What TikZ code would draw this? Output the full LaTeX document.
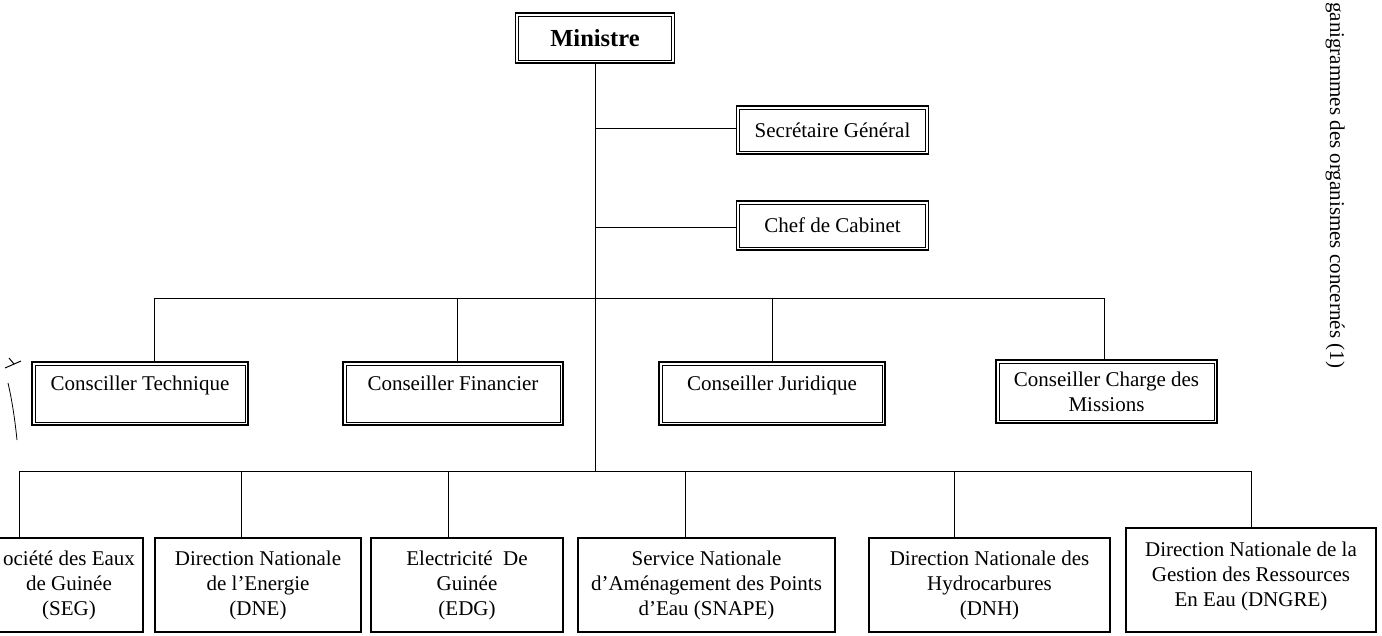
\documentclass[tikz,border=0pt]{standalone}
\usepackage{fontspec}
\setmainfont{Liberation Serif}
\usetikzlibrary{calc}
\begin{document}
\begin{tikzpicture}[x=1pt,y=1pt,
  txt/.style={font=\fontsize{21}{25}\selectfont,align=center,inner sep=0pt},
  dbox/.style={txt,draw,line width=1.6pt,minimum width=#1,minimum height=48pt},
  cbox/.style={txt,draw,line width=1.6pt,minimum width=#1,minimum height=63pt},
  bbox/.style={txt,draw,line width=1.7pt,minimum width=#1,minimum height=94pt},
  link/.style={line width=0.9pt},
  inner/.style={line width=0.6pt}]
\useasboundingbox (0,0) rectangle (1382,-635);

% top
\node[dbox=159pt,minimum height=50pt,font=\fontsize{24.5}{28}\selectfont\bfseries] (min) at (595,-38) {Ministre};
\node[dbox=192pt] (sg) at (832.5,-130) {Secrétaire Général};
\node[dbox=192pt,minimum height=49pt] (cc) at (832.5,-225.5) {Chef de Cabinet};

% conseillers
\node[cbox=216pt,text height=14pt,text depth=21pt] (ct) at (140,-393.5) {Consciller Technique};
\node[cbox=220pt,text height=14pt,text depth=21pt] (cf) at (453,-393.5) {Conseiller Financier};
\node[cbox=226pt,text height=14pt,text depth=21pt] (cj) at (772,-393.5) {Conseiller Juridique};
\node[cbox=221pt] (cm) at (1106.5,-391.5) {Conseiller Charge des\\Missions};

\foreach \n in {min,sg,cc,ct,cf,cj,cm}{
  \draw[inner] ([shift={(4pt,-4pt)}]\n.north west) rectangle ([shift={(-4pt,4pt)}]\n.south east);
}

% bottom
\node[bbox=148pt] (seg) at (69,-585) {ociété des Eaux\\de Guinée\\(SEG)};
\node[bbox=206pt] (dne) at (258,-585) {Direction Nationale\\de l'Energie\\(DNE)};
\node[bbox=192pt] (edg) at (467,-585) {Electricité\ \ De\\Guinée\\(EDG)};
\node[bbox=257pt] (snape) at (706.5,-585) {Service Nationale\\d'Aménagement des Points\\d'Eau (SNAPE)};
\node[bbox=241pt] (dnh) at (989.5,-585) {Direction Nationale des\\Hydrocarbures\\(DNH)};
\node[bbox=250pt,minimum height=104pt,text depth=12pt] (dngre) at (1251,-580) {Direction Nationale de la\\Gestion des Ressources\\En Eau (DNGRE)};

% side title
\node[rotate=-90,anchor=north west,font=\fontsize{21}{24}\selectfont,inner sep=0pt] (title) at (1345,-2) {ganigrammes des organismes concernés (1)};

% connectors
\coordinate (t1) at (min.south);
\coordinate (t2) at ($(t1)+(0,-408)$);
\coordinate (j1) at ($(t1)+(0,-65)$);
\coordinate (j2) at ($(t1)+(0,-164)$);
\draw[link] (t1) -- (t2);
\draw[link] (j1) -- (j1 -| sg.west);
\draw[link] (j2) -- (j2 -| cc.west);

\coordinate (u1) at (154,-298);
\coordinate (u2) at (457,-298);
\coordinate (u3) at (772,-298);
\coordinate (u4) at (1104,-298);
\draw[link] (u1) -- (u4);
\draw[link] (u1) -- (u1 |- ct.north);
\draw[link] (u2) -- (u2 |- cf.north);
\draw[link] (u3) -- (u3 |- cj.north);
\draw[link] (u4) -- (u4 |- cm.north);

\coordinate (b1) at (19,-471);
\coordinate (b2) at (241,-471);
\coordinate (b3) at (448,-471);
\coordinate (b4) at (685,-471);
\coordinate (b5) at (954,-471);
\coordinate (b6) at (1251,-471);
\draw[link] (b1) -- (b6);
\draw[link] (b1) -- (b1 |- seg.north);
\draw[link] (b2) -- (b2 |- dne.north);
\draw[link] (b3) -- (b3 |- edg.north);
\draw[link] (b4) -- (b4 |- snape.north);
\draw[link] (b5) -- (b5 |- dnh.north);
\draw[link] (b6) -- (b6 |- dngre.north);

% hand-drawn marks
\draw[line width=1pt] (5,-368) -- (21,-361);
\draw[line width=1pt] (9,-358) -- (14,-364);
\draw[line width=0.8pt] (8,-383) .. controls (12,-400) and (15,-420) .. (17,-440);
\end{tikzpicture}
\end{document}
